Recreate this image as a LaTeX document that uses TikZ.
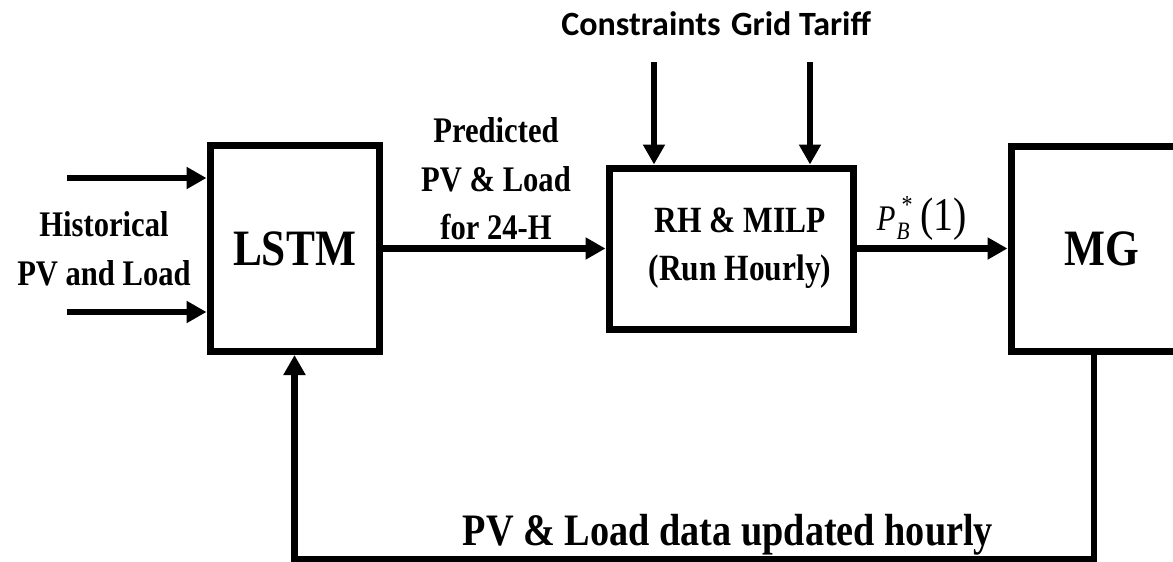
\documentclass[tikz,border=0pt]{standalone}
\usepackage{fontspec}
\setmainfont{Liberation Serif}[FakeStretch=0.85]
\newfontfamily\calfont{Carlito}
\usetikzlibrary{arrows.meta,positioning}
\tikzset{
  block/.style={draw, line width=7pt, inner sep=0pt, align=center},
  bigtext/.style={font=\bfseries\fontsize{51}{60}\selectfont},
  midtext/.style={font=\bfseries\fontsize{37}{48}\selectfont},
  arrow/.style={-{Triangle[length=20pt,width=21pt]}, line width=6.5pt},
  lbl/.style={inner sep=0pt, align=center, font=\bfseries\fontsize{36}{48.5}\selectfont},
  toplbl/.style={inner sep=0pt, anchor=base, font=\calfont\bfseries\fontsize{34}{38}\selectfont}
}
\newcommand{\pbstar}{{\itshape P}\kern1pt\raisebox{-9pt}{\fontsize{25}{25}\selectfont\itshape B}\kern-8pt\raisebox{17pt}{\fontsize{26}{26}\selectfont *}\kern8pt{\fontsize{47}{50}\selectfont(1)}}
\begin{document}
\begin{tikzpicture}[x=1pt, y=-1pt]
  \useasboundingbox (0,0) rectangle (1173,562);
  \node[block, bigtext, minimum width=169pt, minimum height=206pt] (lstm) at (294.5,248.5) {LSTM};
  \node[block, midtext, minimum width=244pt, minimum height=161pt] (rh) at (731,248.5) {\hspace*{18pt}RH \& MILP\\\hspace*{18pt}(Run Hourly)};
  \node[block, bigtext, minimum width=166pt, minimum height=205pt] (mg) at (1094,248.5) {\hspace*{16pt}MG};

  \node[lbl] (hist) at (104,249) {Historical\\PV and Load};
  \foreach \y [count=\i] in {178,312} {
    \coordinate (hin\i) at (67,\y);
    \draw[arrow] (hin\i) -- (hin\i -| lstm.west);
  }

  \node[lbl] (pred) at (496,179) {Predicted\\PV \& Load\\for 24-H};
  \draw[arrow] (lstm) -- (rh);

  \node[toplbl] (cons) at (641,35) {Constraints};
  \node[toplbl] (tariff) at (801,35) {Grid Tariff};
  \foreach \n/\x in {cons/654,tariff/810} {
    \coordinate (\n in) at (\x,62);
    \draw[arrow] (\n in) -- (\n in |- rh.north);
  }

  \node[inner sep=0pt, anchor=base, font=\fontsize{36}{40}\selectfont] (pb) at (922,230) {\pbstar};
  \draw[arrow] (rh) -- (mg);

  \coordinate (fb) at (1094,559);
  \draw[arrow] (mg.south) -- (fb) -| (lstm.south);
  \node[inner sep=0pt, anchor=base, font=\bfseries\fontsize{45}{50}\selectfont] (upd) at (728,545) {PV \& Load data updated hourly};
\end{tikzpicture}
\end{document}
